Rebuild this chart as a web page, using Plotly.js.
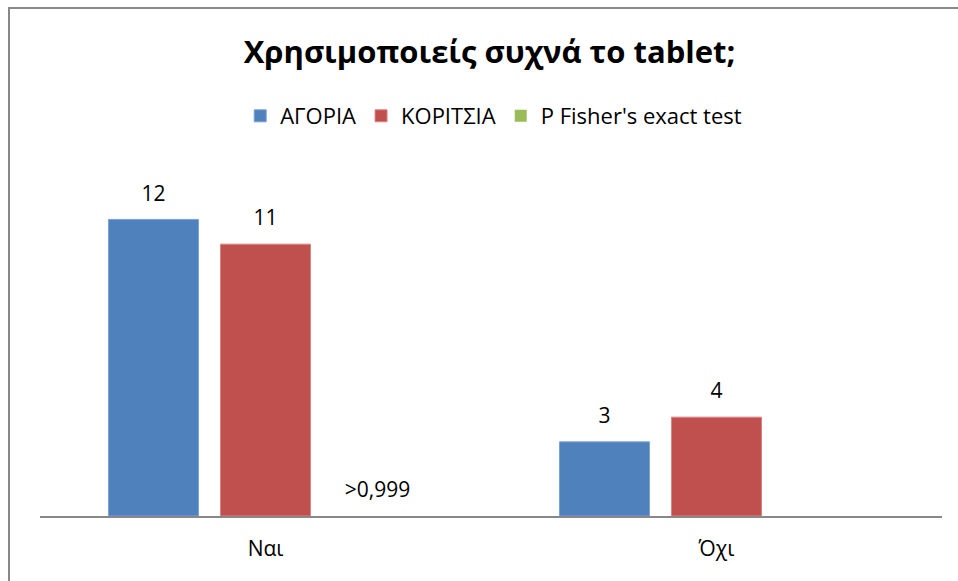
<!DOCTYPE html>
<html>
<head>
<meta charset="utf-8">
<script src="https://cdn.plot.ly/plotly-3.0.1.min.js"></script>
<style>
  html, body { margin: 0; padding: 0; background: #fff; }
  #wrap { position: relative; width: 958px; height: 581px; overflow: hidden; }
  #chart { width: 958px; height: 581px; }
  #frame { position: absolute; left: 8px; top: 7px; width: 960px; height: 600px;
           border-top: 2px solid #888; border-left: 2px solid #888; pointer-events: none; }
</style>
</head>
<body>
<div id="wrap"><div id="chart"></div><div id="frame"></div></div>
<script>
const categories = ["Ναι", "Όχι"];
const boys = [12, 3];
const girls = [11, 4];
const fisherValues = [0, null];
const fisherLabels = [">0,999", ""];
const seriesNames = ["ΑΓΟΡΙΑ", "ΚΟΡΙΤΣΙΑ", "P Fisher's exact test"];
const seriesColors = ["#4F81BD", "#C0504D", "#9BBB59"];
const edgeColors = ["#7EA1D3", "#D88583", "#9BBB59"];
const edgeWidths = [1, 1, 0];

const FONT = "Open Sans, Noto Sans, sans-serif";
const labelFont = { family: FONT, size: 21, color: "#000" };

const barValues = [boys, girls, fisherValues];
const labelTexts = [boys.map(String), girls.map(String), fisherLabels];

const traces = [];
barValues.forEach((vals, i) => {
  traces.push({
    type: "bar", name: seriesNames[i], x: categories, y: vals,
    offsetgroup: "g" + i, alignmentgroup: "a",
    marker: { color: seriesColors[i], line: { color: edgeColors[i], width: edgeWidths[i] } },
    hoverinfo: "skip"
  });
});
// data labels, grouped like the bars
barValues.forEach((vals, i) => {
  traces.push({
    type: "scatter", mode: "markers+text", x: categories, y: vals,
    offsetgroup: "g" + i, alignmentgroup: "a",
    text: labelTexts[i], textposition: "top center", textfont: labelFont,
    marker: { size: 20, opacity: 0, color: "rgba(0,0,0,0)" },
    showlegend: false, cliponaxis: false, hoverinfo: "skip"
  });
});

const layout = {
  width: 958, height: 581,
  paper_bgcolor: "#fff", plot_bgcolor: "#fff",
  margin: { l: 40, r: 16, t: 170, b: 65 },
  title: {
    text: "<b>Χρησιμοποιείς συχνά το tablet;</b>",
    font: { family: FONT, size: 31, color: "#000" },
    x: 0.511, xanchor: "center", y: 0.91, yanchor: "middle"
  },
  showlegend: true,
  legend: {
    orientation: "h", x: 0.503, xanchor: "center", y: 1.156, yanchor: "middle",
    font: { family: FONT, size: 22, color: "#000" },
    traceorder: "normal", itemclick: false
  },
  barmode: "group",
  bargap: 0.255,
  bargroupgap: 0.196,
  scattermode: "group",
  scattergap: 0.255,
  xaxis: {
    type: "category",
    showline: true, linecolor: "#888", linewidth: 2,
    ticks: "", showgrid: false, zeroline: false,
    tickfont: { family: FONT, size: 21, color: "#000" },
    ticklabelstandoff: 13
  },
  yaxis: {
    range: [0, 14], visible: false, showgrid: false, zeroline: false, fixedrange: true
  }
};

Plotly.newPlot("chart", traces, layout, { staticPlot: true, displayModeBar: false });
</script>
</body>
</html>
